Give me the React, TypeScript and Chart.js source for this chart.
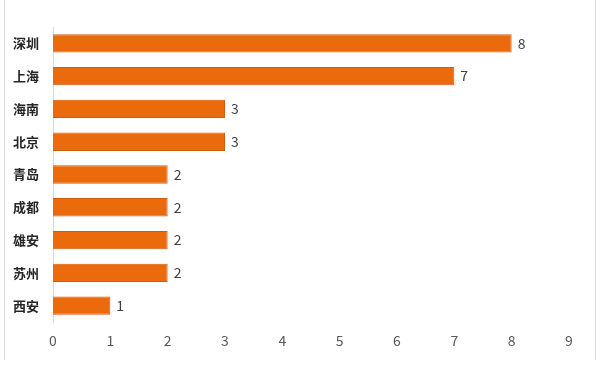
import React, { useEffect, useRef } from "react";
import { Chart, registerables } from "chart.js";

Chart.register(...registerables);

const cities = ["深圳", "上海", "海南", "北京", "青岛", "成都", "雄安", "苏州", "西安"];
const counts = [8, 7, 3, 3, 2, 2, 2, 2, 1];
const xTicks = [0, 1, 2, 3, 4, 5, 6, 7, 8, 9];

const FONT = "'Noto Sans CJK SC', 'Noto Sans', sans-serif";

const labelPlugin = {
  id: "barLabels",
  afterDatasetsDraw(chart: any) {
    const ctx = chart.ctx;
    const meta = chart.getDatasetMeta(0);
    ctx.save();
    ctx.font = `14px ${FONT}`;
    ctx.fillStyle = "#404040";
    ctx.textAlign = "left";
    ctx.textBaseline = "middle";
    meta.data.forEach((bar: any, i: number) => {
      ctx.fillText(String(counts[i]), bar.x + 6, bar.y);
    });
    ctx.restore();
  },
};

const framePlugin = {
  id: "frame",
  beforeDraw(chart: any) {
    const ctx = chart.ctx;
    ctx.save();
    ctx.fillStyle = "#ffffff";
    ctx.fillRect(0, 0, chart.width, chart.height);
    ctx.strokeStyle = "#e0e0e0";
    ctx.lineWidth = 1;
    ctx.beginPath();
    ctx.moveTo(4.5, 0);
    ctx.lineTo(4.5, 360);
    ctx.moveTo(595.5, 0);
    ctx.lineTo(595.5, 360);
    ctx.stroke();
    ctx.restore();
  },
};

export default function App() {
  const ref = useRef<HTMLCanvasElement>(null);
  useEffect(() => {
    if (!ref.current) return;
    const chart = new Chart(ref.current, {
      type: "bar",
      data: {
        labels: cities,
        datasets: [
          {
            data: counts,
            backgroundColor: "#EB6A0C",
            borderColor: "#D45B08",
            borderWidth: 1,
            categoryPercentage: 1,
            barPercentage: 0.56,
          },
        ],
      },
      options: {
        indexAxis: "y",
        animation: false,
        responsive: false,
        layout: { padding: { top: 27, right: 31, left: 0, bottom: 0 } },
        plugins: { legend: { display: false }, tooltip: { enabled: false } },
        scales: {
          x: {
            min: 0,
            max: 9,
            afterBuildTicks(scale: any) {
              scale.ticks = xTicks.map((v) => ({ value: v }));
            },
            grid: { display: false },
            border: { display: false },
            ticks: {
              color: "#595959",
              font: { family: FONT, size: 14 },
              padding: 2,
            },
            afterFit(scale: any) {
              scale.height = 53;
            },
          },
          y: {
            grid: { display: false },
            border: { display: true, color: "#d9d9d9", width: 1 },
            ticks: {
              color: "#262626",
              font: { family: FONT, size: 13, weight: "bold" },
              padding: 6,
            },
            afterFit(scale: any) {
              scale.width = 53;
            },
          },
        },
      },
      plugins: [framePlugin, labelPlugin],
    });
    return () => chart.destroy();
  }, []);
  return (
    <div style={{ position: "fixed", left: 0, top: 0, width: 600, height: 375, background: "#fff" }}>
      <canvas ref={ref} width={600} height={375} style={{ width: 600, height: 375 }} />
    </div>
  );
}
